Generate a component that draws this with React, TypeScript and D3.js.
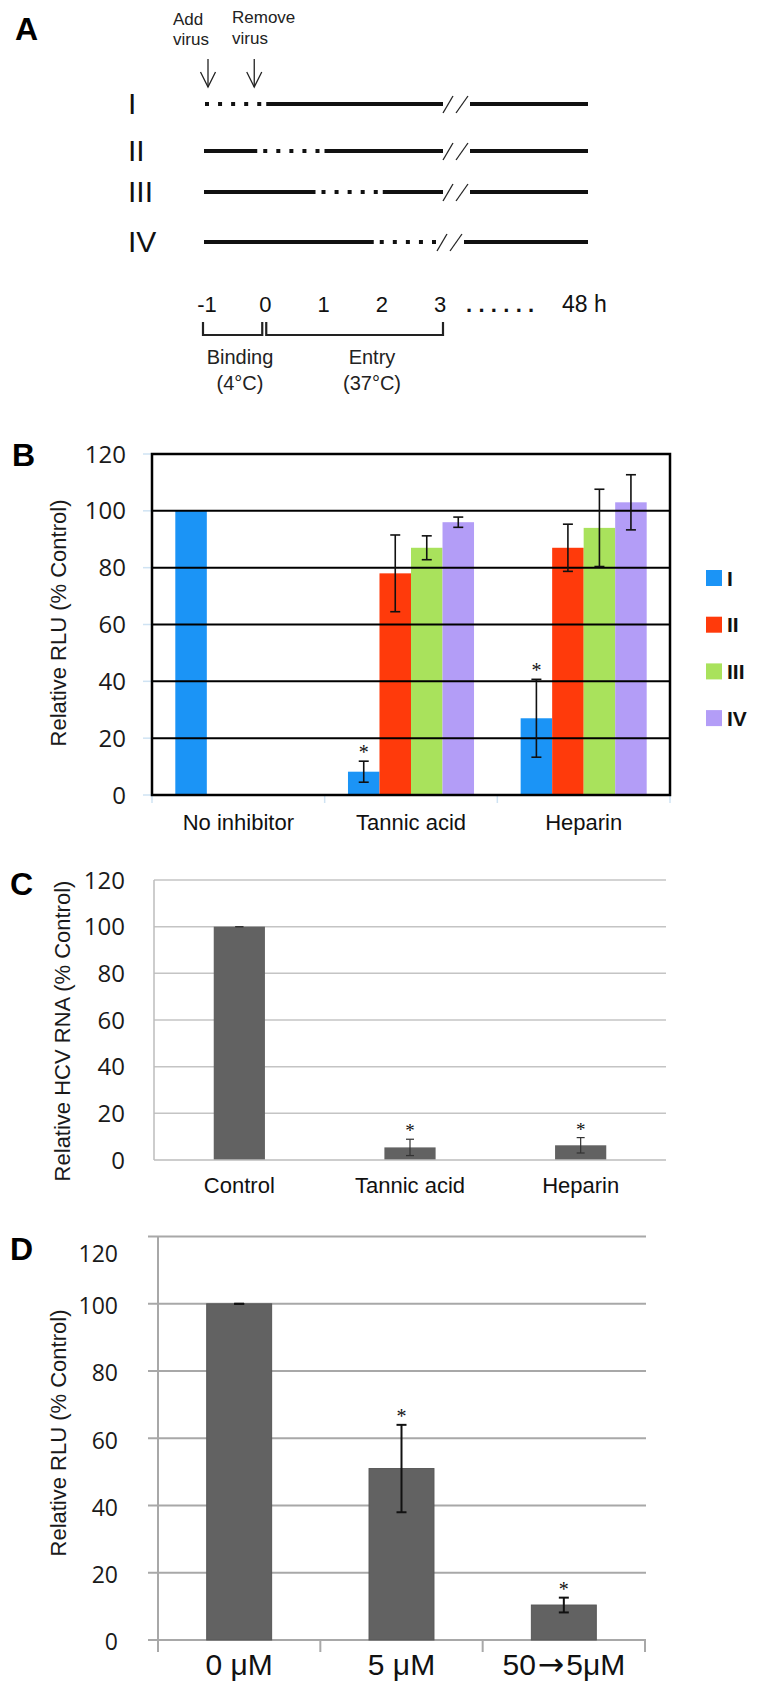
import React from 'react';
import * as d3 from 'd3';

// ---------- Panel A data ----------
const rowLabels = ['I', 'II', 'III', 'IV'];
const dottedStart = [-1, 0, 1, 2]; // hours when virus present (dotted)
const dottedEnd = [0, 1, 2, 3];
const timeTicks = [-1, 0, 1, 2, 3];
const timeTickLabels = ['-1', '0', '1', '2', '3'];

// ---------- Panel B data ----------
const bCategories = ['No inhibitor', 'Tannic acid', 'Heparin'];
const bSeries = ['I', 'II', 'III', 'IV'];
const bSeriesI = [100, 8.2, 27];
const bSeriesII = [0, 78, 87];
const bSeriesIII = [0, 87, 94];
const bSeriesIV = [0, 96, 103];
const bErrI = [0, 3.7, 13.7];
const bErrII = [0, 13.5, 8.3];
const bErrIII = [0, 4.2, 13.6];
const bErrIV = [0, 1.8, 9.7];
const bSigI = [false, true, true];
const bColors = ['#1b94f6', '#ff3a0b', '#a9e25c', '#b39df7'];
const yTicks = [0, 20, 40, 60, 80, 100, 120];

// ---------- Panel C data ----------
const cCategories = ['Control', 'Tannic acid', 'Heparin'];
const cValues = [100, 5.4, 6.3];
const cErrors = [0, 3.5, 3.3];
const cSig = [false, true, true];

// ---------- Panel D data ----------
const dCategories = ['0 \u03bcM', '5 \u03bcM', '50\u21925\u03bcM'];
const dValues = [100, 51, 10.4];
const dErrors = [0, 13, 2.2];
const dSig = [false, true, true];

const sans = '"Liberation Sans", Arial, Helvetica, sans-serif';
const numFont = '"Open Sans", "Noto Sans", sans-serif';
const serif = '"Liberation Serif", "Times New Roman", serif';

function ErrorBar({ x, y0, y1, cap, sw, color }: any) {
  return (
    <g stroke={color} strokeWidth={sw}>
      <line x1={x} x2={x} y1={y0} y2={y1} />
      <line x1={x - cap} x2={x + cap} y1={y0} y2={y0} />
      <line x1={x - cap} x2={x + cap} y1={y1} y2={y1} />
    </g>
  );
}

function CatLabel({ label, x, y, size }: any) {
  // split around an arrow so the arrow can be drawn in a font with a longer glyph
  const idx = label.indexOf('\u2192');
  if (idx < 0) {
    return (
      <text x={x} y={y} textAnchor="middle" fontFamily={sans} fontSize={size} fill="#111">{label}</text>
    );
  }
  return (
    <text x={x} y={y} textAnchor="middle" fontFamily={sans} fontSize={size} fill="#111">
      {label.slice(0, idx)}
      <tspan fontFamily='"DejaVu Sans", sans-serif' fontSize={size * 1.05} dx={2}>{'\u2192'}</tspan>
      <tspan dx={2}>{label.slice(idx + 1)}</tspan>
    </text>
  );
}

function PanelA() {
  const xA = d3.scaleLinear().domain([-1, 3]).range([204, 437]);
  const rowYs = [104, 151, 192, 242];
  const lineEnd = 588;
  const lw = 4;
  return (
    <g>
      <text x={15} y={40} fontFamily={sans} fontWeight="bold" fontSize={32}>A</text>
      <text fontFamily={sans} fontSize={17} fill="#222">
        <tspan x={173} y={25}>Add</tspan>
        <tspan x={173} y={45}>virus</tspan>
      </text>
      <text fontFamily={sans} fontSize={17} fill="#222">
        <tspan x={232} y={23}>Remove</tspan>
        <tspan x={232} y={44}>virus</tspan>
      </text>
      {[xA(-1) + 4, xA(0) - 8].map((x, i) => (
        <g key={i} stroke="#222" strokeWidth={1.3} fill="none">
          <line x1={x} x2={x} y1={59} y2={87} />
          <polyline points={`${x - 7.5},${72} ${x},${87} ${x + 7.5},${72}`} />
        </g>
      ))}
      {rowLabels.map((lab, i) => {
        const y = rowYs[i];
        const s = dottedStart[i];
        const e = dottedEnd[i];
        const ds = xA(s);
        const de = xA(e);
        const brk = xA(3) + (e === 3 ? 0 : 6);
        const segs: [number, number][] = [];
        if (s > -1) segs.push([xA(-1), ds - 5]);
        if (e < 3) segs.push([de + 4, brk]);
        const dots = d3.range(5).map((k) => ds + 1 + (k * (de - ds - 6)) / 4);
        return (
          <g key={lab}>
            <text x={128} y={y + 10} fontFamily={sans} fontSize={30} fill="#111">{lab}</text>
            {segs.map((sg, j) => (
              <line key={j} x1={sg[0]} x2={sg[1]} y1={y} y2={y} stroke="#111" strokeWidth={lw} />
            ))}
            {dots.map((dx, j) => (
              <rect key={j} x={dx} y={y - 2} width={4} height={4} fill="#111" />
            ))}
            <g stroke="#222" strokeWidth={1.3}>
              <line x1={brk} y1={y + 9} x2={brk + 10} y2={y - 8} />
              <line x1={brk + 13} y1={y + 9} x2={brk + 25} y2={y - 8} />
            </g>
            <line x1={brk + 27} x2={lineEnd} y1={y} y2={y} stroke="#111" strokeWidth={lw} />
          </g>
        );
      })}
      {timeTicks.map((t, i) => (
        <text key={t} x={xA(t) + 3} y={312} textAnchor="middle" fontFamily={sans} fontSize={22} fill="#111">
          {timeTickLabels[i]}
        </text>
      ))}
      <text x={466} y={312} fontFamily={sans} fontSize={22} letterSpacing={6.3} fontWeight="bold" fill="#111">......</text>
      <text x={562} y={312} fontFamily={sans} fontSize={23} fill="#111">48 h</text>
      <g stroke="#222" strokeWidth={2.2} fill="none">
        <polyline points={`${xA(-1) - 1},322 ${xA(-1) - 1},335 ${xA(0)},335 ${xA(0)},322`} />
        <polyline points={`${xA(0) + 4},322 ${xA(0) + 4},335 ${xA(3) + 6},335 ${xA(3) + 6},322`} />
      </g>
      <g fontFamily={sans} fontSize={20} fill="#222" textAnchor="middle">
        <text x={240} y={364}>Binding</text>
        <text x={240} y={390}>(4°C)</text>
        <text x={372} y={364}>Entry</text>
        <text x={372} y={390}>(37°C)</text>
      </g>
    </g>
  );
}

function PanelB() {
  const yB = d3.scaleLinear().domain([0, 120]).range([795, 454]);
  const xB = d3.scaleBand().domain(bCategories).range([152, 670]);
  const bw = xB.bandwidth();
  const gw = bw * 0.73;
  const xi = d3.scaleBand().domain(bSeries).range([(bw - gw) / 2, (bw + gw) / 2]);
  const vals = [bSeriesI, bSeriesII, bSeriesIII, bSeriesIV];
  const errs = [bErrI, bErrII, bErrIII, bErrIV];
  const [x0, x1] = xB.range();
  return (
    <g>
      <text x={12} y={466} fontFamily={sans} fontWeight="bold" fontSize={32}>B</text>
      {yTicks.map((t) => (
        <g key={t}>
          <line x1={x0 - 9} x2={x0} y1={yB(t)} y2={yB(t)} stroke="#cfe3f3" strokeWidth={1.5} />
          <text x={126} y={yB(t)} dy="0.36em" textAnchor="end" fontFamily={numFont} fontSize={24} fill="#1a1a1a">{t}</text>
        </g>
      ))}
      {[...bCategories.map((c) => xB(c)!), x1].map((x, i) => (
        <line key={i} x1={x} x2={x} y1={795} y2={803} stroke="#cfe3f3" strokeWidth={1.5} />
      ))}
      {bCategories.map((c, ci) =>
        bSeries.map((s, si) => {
          const v = vals[si][ci];
          if (!v) return null;
          return (
            <rect key={c + s} x={xB(c)! + xi(s)!} y={yB(v)} width={xi.bandwidth()} height={yB(0) - yB(v)} fill={bColors[si]} />
          );
        })
      )}
      {yTicks.filter((t) => t > 0 && t < 120).map((t) => (
        <line key={t} x1={x0} x2={x1} y1={yB(t)} y2={yB(t)} stroke="#000" strokeWidth={2} />
      ))}
      <rect x={x0} y={yB(120)} width={x1 - x0} height={yB(0) - yB(120)} fill="none" stroke="#000" strokeWidth={2.5} />
      {bCategories.map((c, ci) =>
        bSeries.map((s, si) => {
          const v = vals[si][ci];
          const e = errs[si][ci];
          if (!v || !e) return null;
          const cx = xB(c)! + xi(s)! + xi.bandwidth() / 2;
          return <ErrorBar key={c + s} x={cx} y0={yB(v + e)} y1={yB(v - e)} cap={5} sw={1.6} color="#111" />;
        })
      )}
      {bCategories.map((c, ci) =>
        bSigI[ci] ? (
          <text key={c} x={xB(c)! + xi('I')! + xi.bandwidth() / 2} y={yB(bSeriesI[ci] + bErrI[ci]) - 2} textAnchor="middle" fontFamily={serif} fontSize={20} fill="#111">*</text>
        ) : null
      )}
      {bCategories.map((c) => (
        <CatLabel key={c} label={c} x={xB(c)! + bw / 2} y={830} size={22} />
      ))}
      <text transform={`translate(58,623) rotate(-90)`} textAnchor="middle" dominantBaseline="central" fontFamily={sans} fontSize={22} fill="#1a1a1a">
        Relative RLU (% Control)
      </text>
      {bSeries.map((s, i) => (
        <g key={s}>
          <rect x={706} y={578 + i * 46.7 - 8} width={16} height={16} fill={bColors[i]} />
          <text x={727} y={578 + i * 46.7} dy="0.36em" fontFamily={sans} fontWeight="bold" fontSize={21} fill="#111">{s}</text>
        </g>
      ))}
    </g>
  );
}

function PanelC() {
  const yC = d3.scaleLinear().domain([0, 120]).range([1160, 880]);
  const xC = d3.scaleBand().domain(cCategories).range([154, 666]).paddingInner(0.7).paddingOuter(0.35);
  const [x0, x1] = xC.range();
  return (
    <g>
      <text x={10} y={895} fontFamily={sans} fontWeight="bold" fontSize={32}>C</text>
      {yTicks.map((t) => (
        <g key={t}>
          {t > 0 && <line x1={x0} x2={x1} y1={yC(t)} y2={yC(t)} stroke="#c4c4c4" strokeWidth={1.5} />}
          <text x={125} y={yC(t)} dy="0.36em" textAnchor="end" fontFamily={numFont} fontSize={24} fill="#1a1a1a">{t}</text>
        </g>
      ))}
      <line x1={x0} x2={x0} y1={yC(120)} y2={yC(0)} stroke="#bdbdbd" strokeWidth={1.5} />
      {cCategories.map((c, i) => (
        <rect key={c} x={xC(c)} y={yC(cValues[i])} width={xC.bandwidth()} height={yC(0) - yC(cValues[i])} fill="#626262" />
      ))}
      <line x1={x0} x2={x1} y1={yC(0)} y2={yC(0)} stroke="#bdbdbd" strokeWidth={1.5} />
      {cCategories.map((c, i) => (
        <ErrorBar key={c} x={xC(c)! + xC.bandwidth() / 2} y0={yC(cValues[i] + cErrors[i])} y1={yC(cValues[i] - cErrors[i])} cap={4} sw={1.2} color="#333" />
      ))}
      {cCategories.map((c, i) =>
        cSig[i] ? (
          <text key={c} x={xC(c)! + xC.bandwidth() / 2} y={yC(cValues[i] + cErrors[i]) - 2} textAnchor="middle" fontFamily={serif} fontSize={19} fill="#111">*</text>
        ) : null
      )}
      {cCategories.map((c) => (
        <CatLabel key={c} label={c} x={xC(c)! + xC.bandwidth() / 2} y={1193} size={22} />
      ))}
      <text transform={`translate(62,1031) rotate(-90)`} textAnchor="middle" dominantBaseline="central" fontFamily={sans} fontSize={22} fill="#1a1a1a">
        Relative HCV RNA (% Control)
      </text>
    </g>
  );
}

function PanelD() {
  const yD = d3.scaleLinear().domain([0, 120]).range([1640, 1236.6]);
  const xD = d3.scaleBand().domain(dCategories).range([158, 645]).paddingInner(0.6).paddingOuter(0.3);
  const [x0, x1] = xD.range();
  const step = xD.step();
  const bounds = d3.range(dCategories.length + 1).map((k) => x0 + k * step);
  return (
    <g>
      <text x={10} y={1260} fontFamily={sans} fontWeight="bold" fontSize={32}>D</text>
      {yTicks.map((t) => (
        <g key={t}>
          <line x1={x0 - 10} x2={x1 + 1} y1={yD(t)} y2={yD(t)} stroke="#a8a8a8" strokeWidth={2} />
          <text x={118} y={yD(t) + (t === 120 ? 17 : 2)} dy="0.36em" textAnchor="end" fontFamily={numFont} fontSize={23} fill="#1a1a1a">{t}</text>
        </g>
      ))}
      <line x1={x0} x2={x0} y1={yD(120)} y2={yD(0) + 12} stroke="#a8a8a8" strokeWidth={2} />
      {bounds.slice(1).map((b, i) => (
        <line key={i} x1={b} x2={b} y1={yD(0)} y2={yD(0) + 12} stroke="#a8a8a8" strokeWidth={2} />
      ))}
      {dCategories.map((c, i) => (
        <rect key={c} x={xD(c)} y={yD(dValues[i])} width={xD.bandwidth()} height={yD(0) - yD(dValues[i])} fill="#626262" stroke="#575757" strokeWidth={1} />
      ))}
      {dCategories.map((c, i) => (
        <ErrorBar key={c} x={xD(c)! + xD.bandwidth() / 2} y0={yD(dValues[i] + dErrors[i])} y1={yD(dValues[i] - dErrors[i])} cap={5} sw={2} color="#111" />
      ))}
      {dCategories.map((c, i) =>
        dSig[i] ? (
          <text key={c} x={xD(c)! + xD.bandwidth() / 2} y={yD(dValues[i] + dErrors[i]) - 2} textAnchor="middle" fontFamily={serif} fontSize={20} fill="#111">*</text>
        ) : null
      )}
      {dCategories.map((c) => (
        <CatLabel key={c} label={c} x={xD(c)! + xD.bandwidth() / 2} y={1675} size={30} />
      ))}
      <text transform={`translate(58,1433) rotate(-90)`} textAnchor="middle" dominantBaseline="central" fontFamily={sans} fontSize={22} fill="#1a1a1a">
        Relative RLU (% Control)
      </text>
    </g>
  );
}

export default function App() {
  return (
    <svg
      width={761}
      height={1681}
      viewBox="0 0 761 1681"
      style={{ position: 'absolute', left: 0, top: 0, background: '#fff', display: 'block' }}
    >
      <rect width={761} height={1681} fill="#fff" />
      <PanelA />
      <PanelB />
      <PanelC />
      <PanelD />
    </svg>
  );
}
